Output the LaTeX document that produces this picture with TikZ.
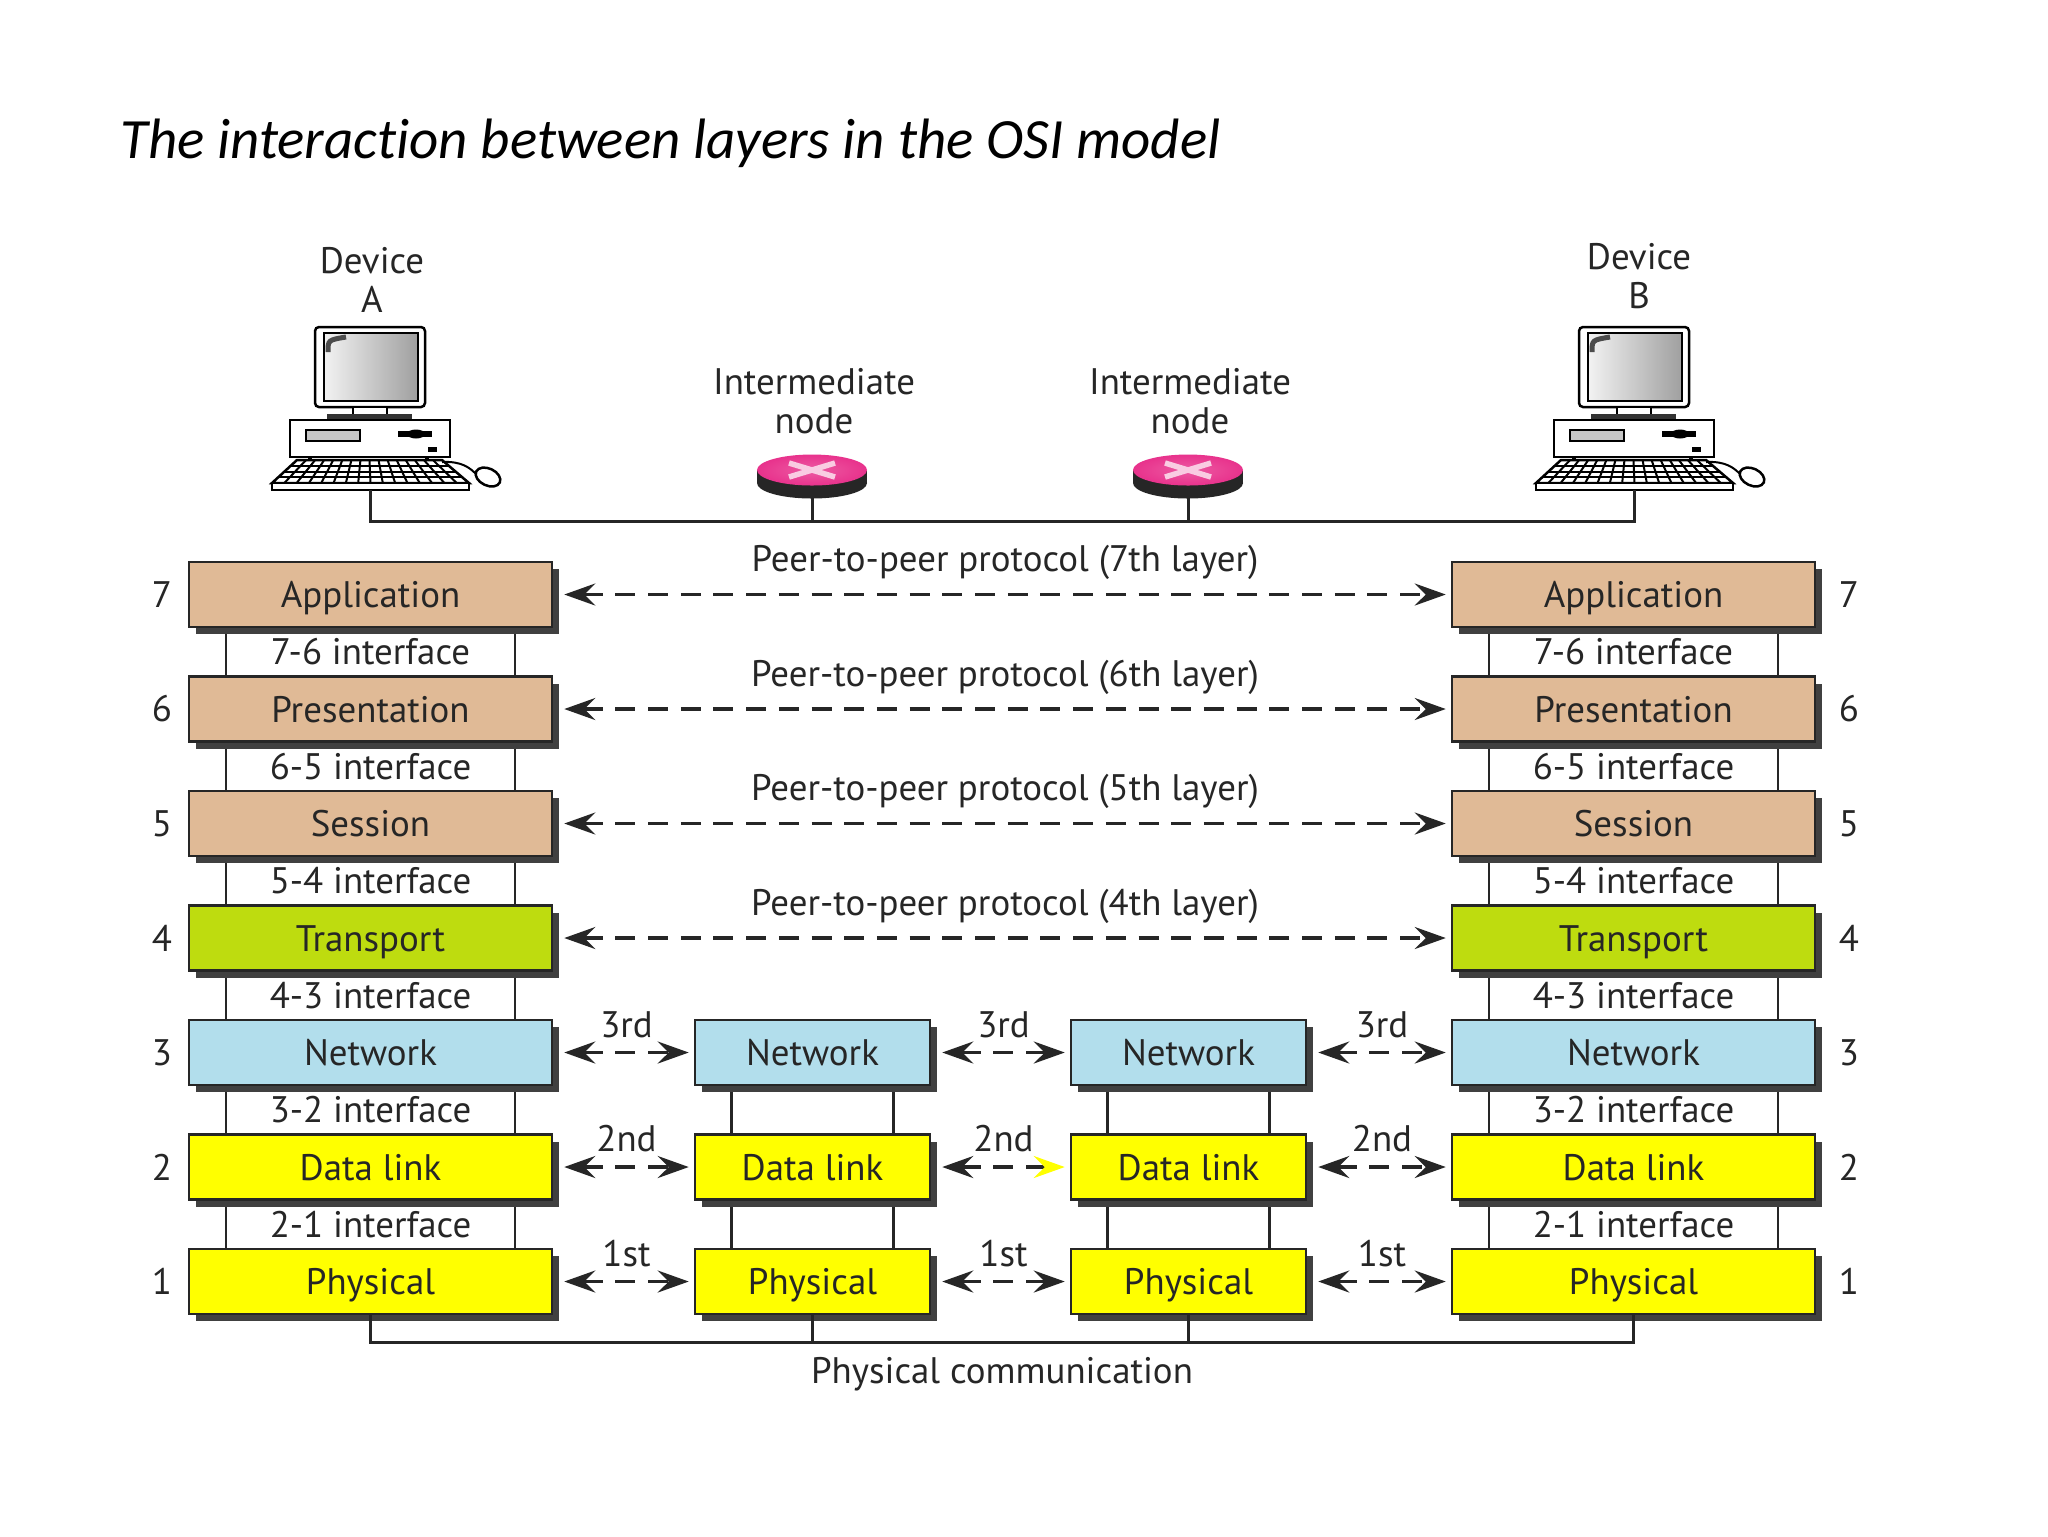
\documentclass[tikz,border=0pt]{standalone}
\usepackage{fontspec}
\setmainfont{PT Sans}
\newfontfamily\titlefont[Ligatures=NoCommon]{Carlito}
\usetikzlibrary{arrows.meta, shadows}

\definecolor{tanL}{RGB}{224,186,150}
\definecolor{limeL}{RGB}{190,220,15}
\definecolor{skyL}{RGB}{178,222,236}
\definecolor{yelL}{RGB}{255,255,0}
\definecolor{pinkR}{RGB}{232,50,140}

\tikzset{
  computer/.pic={
    % monitor
    \draw[line width=0.25mm, fill=white, rounded corners=0.4mm] (-55,327) rectangle (55,407);
    \shade[left color=gray!10, right color=gray!75] (-46,333) rectangle (48,401);
    \draw[line width=0.15mm] (-46,333) rectangle (48,401);
    \draw[line width=0.5mm, black!70] (-42,352) .. controls (-42,340) .. (-24,337);
    % stand and box
    \draw[line width=0.2mm, fill=white] (-17,407) rectangle (17,415);
    \fill[black!80] (-43,414) rectangle (42,420);
    \draw[line width=0.25mm, fill=white] (-80,420) rectangle (80,457);
    \draw[line width=0.2mm, fill=gray!45] (-64,430) rectangle (-10,441);
    \draw[line width=0.6mm] (28,434) -- (62,434);
    \fill (46,434) ellipse [x radius=0.9mm, y radius=0.45mm];
    \fill (58,447) rectangle (67,452);
    \fill (-62,457) rectangle (-58,461);
    \fill (55,457) rectangle (59,461);
    % keyboard
    \draw[line width=0.25mm, fill=white] (-73,460) -- (72,460) -- (99,483) -- (-98,483) -- cycle;
    \foreach \t in {0.25,0.5,0.75}
      \draw[line width=0.2mm] ({-73-25*\t},{460+23*\t}) -- ({72+27*\t},{460+23*\t});
    \foreach \k in {1,...,15}
      \draw[line width=0.2mm] ({-73+145*\k/16},460) -- ({-98+197*\k/16},483);
    \draw[line width=0.25mm, fill=white] (-98,483) rectangle (99,490);
    % mouse
    \draw[line width=0.2mm] (72,462) .. controls (92,461) and (100,468) .. (106,474);
    \draw[line width=0.25mm, fill=white, rotate around={-25:(118,477)}] (118,477) ellipse [x radius=1.3mm, y radius=0.85mm];
    \coordinate (-base) at (0,490);
  },
  router/.pic={
    \fill[black!85] (-55,470) rectangle (55,483);
    \fill[black!85] (0,483) ellipse [x radius=5.5mm, y radius=1.55mm];
    \shade[inner color=pinkR!80!white, outer color=pinkR] (0,470) ellipse [x radius=5.5mm, y radius=1.55mm];
    \draw[pinkR!25!white, line width=0.55mm] (-23,463) -- (23,477) (-23,477) -- (23,463);
    \coordinate (-base) at (0,498);
  }
}

\begin{document}
\begin{tikzpicture}[x=0.1mm, y=-0.1mm,
  every node/.style={font=\fontsize{10.5}{11.1}\selectfont, text=black!85},
  layer/.style={draw=black!85, line width=0.25mm, inner sep=0pt, minimum height=6.5mm,
    text height=2.6mm, text depth=0pt,
    drop shadow={shadow xshift=0.7mm, shadow yshift=-0.7mm, opacity=1, fill=black!75}},
  iface/.style={draw=black!85, line width=0.25mm, inner sep=0pt, minimum height=4.95mm, fill=white},
  >={Stealth[length=3.1mm, width=2.2mm, inset=1.1mm]},
  peer/.style={<->, dash pattern=on 2mm off 1.27mm, line width=0.35mm, black!85},
  wire/.style={line width=0.3mm, black!85}]
  \pgfmathsetmacro{\dy}{114.5} % row step
  \fill[white] (0,0) rectangle (2048,1536);
  \useasboundingbox (0,0) rectangle (2048,1536);

  \node[anchor=base west, font=\titlefont\itshape\fontsize{16.2}{20}\selectfont, text=black] (title) at (108,158)
    {The interaction between layers in the OSI model};

  % devices and intermediate nodes
  \pic (pcA) at (370,0) {computer};
  \pic (pcB) at (1634,0) {computer};
  \pic (rt1) at (812,0) {router};
  \pic (rt2) at (1188,0) {router};
  \node[align=center] (devA) at (372,280) {Device\\A};
  \node[align=center] (devB) at (1639,276) {Device\\B};
  \node[align=center] (imd1) at (814,401) {Intermediate\\node};
  \node[align=center] (imd2) at (1190,401) {Intermediate\\node};
  \draw[wire] (pcA-base) -- ++(0,31) -| (pcB-base);
  \draw[wire] (rt1-base) -- ++(0,23);
  \draw[wire] (rt2-base) -- ++(0,23);

  % end stacks
  \foreach \s/\x/\nx in {A/370.5/162, B/1633.5/1849} {
    \foreach \n/\m in {7/6,6/5,5/4,4/3,3/2,2/1}
      \node[iface, minimum width=28.9mm] (\s\n\m) at (\x,{651.75+\dy*(7-\n)}) {\n-\m{} interface};
    \foreach \n/\name/\col in {7/Application/tanL, 6/Presentation/tanL, 5/Session/tanL,
        4/Transport/limeL, 3/Network/skyL, 2/Data link/yelL, 1/Physical/yelL} {
      \node[layer, fill=\col, minimum width=36.3mm] (\s\n) at (\x,{594.5+\dy*(7-\n)}) {\name};
      \node (n\s\n) at (\nx,{594.5+\dy*(7-\n)}) {\n};
    }
  }
  % middle stacks
  \foreach \s/\x in {M/812.5, N/1188.5} {
    \foreach \n/\m in {3/2,2/1}
      \node[iface, minimum width=16.2mm] (\s\n\m) at (\x,{651.75+\dy*(7-\n)}) {};
    \foreach \n/\name/\col in {3/Network/skyL, 2/Data link/yelL, 1/Physical/yelL}
      \node[layer, fill=\col, minimum width=23.5mm] (\s\n) at (\x,{594.5+\dy*(7-\n)}) {\name};
  }

  % peer-to-peer arrows
  \foreach \n in {7,6,5,4}
    \draw[peer] ([xshift=1.1mm]A\n.east) -- ([xshift=-0.5mm]B\n.west)
      node[midway, yshift=3.2mm] {Peer-to-peer protocol (\n{}th layer)};
  \foreach \n/\ord in {3/3rd, 2/2nd, 1/1st} {
    \draw[peer] ([xshift=1.1mm]A\n.east) -- ([xshift=-0.5mm]M\n.west) node[midway, yshift=2.8mm] {\ord};
    \draw[peer] ([xshift=1.1mm]N\n.east) -- ([xshift=-0.5mm]B\n.west) node[midway, yshift=2.8mm] {\ord};
  }
  \draw[peer] ([xshift=1.1mm]M3.east) -- ([xshift=-0.5mm]N3.west) node[midway, yshift=2.8mm] {3rd};
  \draw[peer, <-{Stealth[length=3.1mm, width=2.2mm, inset=1.1mm, color=yelL]}] ([xshift=1.1mm]M2.east) -- ([xshift=-0.5mm]N2.west)
    node[midway, yshift=2.8mm] {2nd};
  \draw[peer] ([xshift=1.1mm]M1.east) -- ([xshift=-0.5mm]N1.west) node[midway, yshift=2.8mm] {1st};

  % physical link
  \draw[wire] (A1.south) -- ++(0,27) -| (B1.south);
  \draw[wire] (M1.south) -- ++(0,27);
  \draw[wire] (N1.south) -- ++(0,27);
  \node (phys) at (1002,1374) {Physical communication};
\end{tikzpicture}
\end{document}
